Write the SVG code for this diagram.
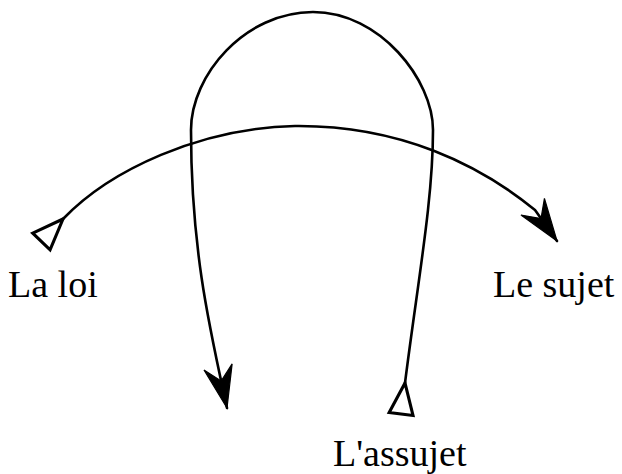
<svg xmlns="http://www.w3.org/2000/svg" width="622" height="474" viewBox="0 0 622 474">
<style>
.c{fill:none;stroke:#000;stroke-width:2.6;stroke-linecap:round;stroke-linejoin:round}
.t{font-family:"Liberation Serif","Times New Roman",serif;font-size:38px;fill:#000}
</style>
<defs>
<marker id="fill" markerUnits="userSpaceOnUse" markerWidth="60" markerHeight="60" viewBox="-40 -20 50 40" refX="0" refY="0" orient="auto" overflow="visible">
<polygon points="0,0 -35,-12 -23,0 -35,12" fill="#000" stroke="#000" stroke-width="1" stroke-linejoin="miter"/>
</marker>
<marker id="open" markerUnits="userSpaceOnUse" markerWidth="60" markerHeight="60" viewBox="-40 -20 50 40" refX="0" refY="0" orient="auto" overflow="visible">
<polygon points="0,0 -26,-10 -26,10" fill="#fff" stroke="#000" stroke-width="2.6" stroke-linejoin="miter"/>
</marker>
</defs>
<g id="connectors">
<path class="c" d="M63,219 C110,170 200,128 295,126 C400,125 480,165 535,210 L557,241" marker-start="url(#open)" marker-end="url(#fill)"/>
<path class="c" d="M405,383 C418,280 433,200 433,130 C433,80 380,12 313,12 C245,12 191,75 191,130 C191,250 210,330 227,408" marker-start="url(#open)" marker-end="url(#fill)"/>
</g>
<g id="la-loi"><text class="t" x="8" y="297">La loi</text></g>
<g id="le-sujet"><text class="t" x="493" y="297">Le sujet</text></g>
<g id="assujet"><text class="t" x="333" y="466">L'assujet</text></g>
</svg>
